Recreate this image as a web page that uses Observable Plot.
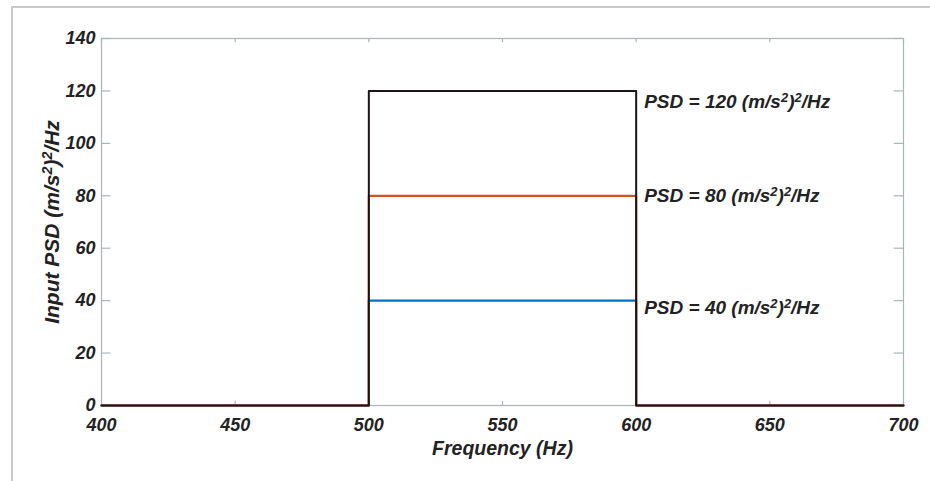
<!DOCTYPE html>
<html>
<head>
<meta charset="utf-8">
<script src="https://cdn.jsdelivr.net/npm/d3@7"></script>
<script src="https://cdn.jsdelivr.net/npm/@observablehq/plot@0.6"></script>
<style>
  html, body { margin: 0; padding: 0; background: #fff; }
  #wrap { position: relative; width: 930px; height: 481px; overflow: hidden; }
  #border { position: absolute; left: 11px; top: 6px; width: 940px; height: 500px; border-left: 2px solid #c9c9c9; border-top: 2px solid #c9c9c9; pointer-events: none; }
  svg text { font-family: "Liberation Sans", Arial, sans-serif; font-weight: bold; font-style: italic; }
</style>
</head>
<body>
<div id="wrap"><div id="border"></div></div>
<script>
// Data
const freq = [400, 500, 500, 600, 600, 700];
const psdBlue = [0, 0, 40, 40, 0, 0];
const psdOrange = [0, 0, 80, 80, 0, 0];
const psdBlack = [0, 0, 120, 120, 0, 0];
const levels = [120, 80, 40];
const labels = ["PSD = 120 (m/s²)²/Hz", "PSD = 80 (m/s²)²/Hz", "PSD = 40 (m/s²)²/Hz"];
const xTicks = [400, 450, 500, 550, 600, 650, 700];
const yTicks = [0, 20, 40, 60, 80, 100, 120, 140];
const xTitle = "Frequency (Hz)";
const yTitle = "Input PSD (m/s²)²/Hz";

const series = (vals) => freq.map((f, i) => ({f, v: vals[i]}));
const ann = levels.map((v, i) => ({v, t: labels[i]}));
const labelDy = [11, 0, 7];

const axisGrey = "#a9b3b8";
const txt = "#222";

const chart = Plot.plot({
  width: 930,
  height: 481,
  marginLeft: 101,
  marginRight: 27,
  marginTop: 38,
  marginBottom: 76,
  x: {domain: [400, 700]},
  y: {domain: [0, 140]},
  style: {background: "transparent", overflow: "visible"},
  marks: [
    Plot.frame({stroke: axisGrey, strokeWidth: 1.2}),
    // inward ticks: bottom, top, left, right
    Plot.ruleX(xTicks, {x: d => d, y1: 0, y2: 1.6, stroke: axisGrey, strokeWidth: 1.2}),
    Plot.ruleX(xTicks, {x: d => d, y1: 140, y2: 138.4, stroke: axisGrey, strokeWidth: 1.2}),
    Plot.ruleY(yTicks, {y: d => d, x1: 400, x2: 403.5, stroke: axisGrey, strokeWidth: 1.2}),
    Plot.ruleY(yTicks, {y: d => d, x1: 700, x2: 696.5, stroke: axisGrey, strokeWidth: 1.2}),
    Plot.axisX({ticks: xTicks, tickSize: 0, tickPadding: 13, fontSize: 18, color: txt, label: null, tickFormat: d => d}),
    Plot.axisY({ticks: yTicks, tickSize: 0, tickPadding: 6, fontSize: 18, color: txt, label: null, tickFormat: d => d}),
    Plot.line(series(psdBlue), {x: "f", y: "v", stroke: "#0072BD", strokeWidth: 2.2}),
    Plot.line(series(psdOrange), {x: "f", y: "v", stroke: "#D95319", strokeWidth: 2.2}),
    Plot.line(series(psdBlack), {x: "f", y: "v", stroke: "#1b1414", strokeWidth: 2}),
    ...ann.map((a, i) => Plot.text([a], {x: 600, y: "v", text: "t", textAnchor: "start", dx: 8, dy: labelDy[i], fontSize: 19, fill: txt})),
    Plot.text([xTitle], {frameAnchor: "bottom", textAnchor: "middle", dy: 49, fontSize: 19.5, fill: txt}),
    Plot.text([yTitle], {frameAnchor: "left", textAnchor: "middle", dx: -49, rotate: -90, fontSize: 21, fill: txt})
  ]
});

// Render "²" as real superscript tspans
chart.querySelectorAll("text").forEach(t => {
  if (t.querySelector("tspan") || !t.textContent.includes("²")) return;
  const parts = t.textContent.split("²");
  t.textContent = "";
  const ns = "http://www.w3.org/2000/svg";
  parts.forEach((p, i) => {
    if (p) {
      const s = document.createElementNS(ns, "tspan");
      s.textContent = p;
      t.appendChild(s);
    }
    if (i < parts.length - 1) {
      const s = document.createElementNS(ns, "tspan");
      s.textContent = "2";
      s.setAttribute("font-size", "68%");
      s.setAttribute("baseline-shift", "48%");
      t.appendChild(s);
    }
  });
});

document.getElementById("wrap").insertBefore(chart, document.getElementById("border"));
</script>
</body>
</html>
